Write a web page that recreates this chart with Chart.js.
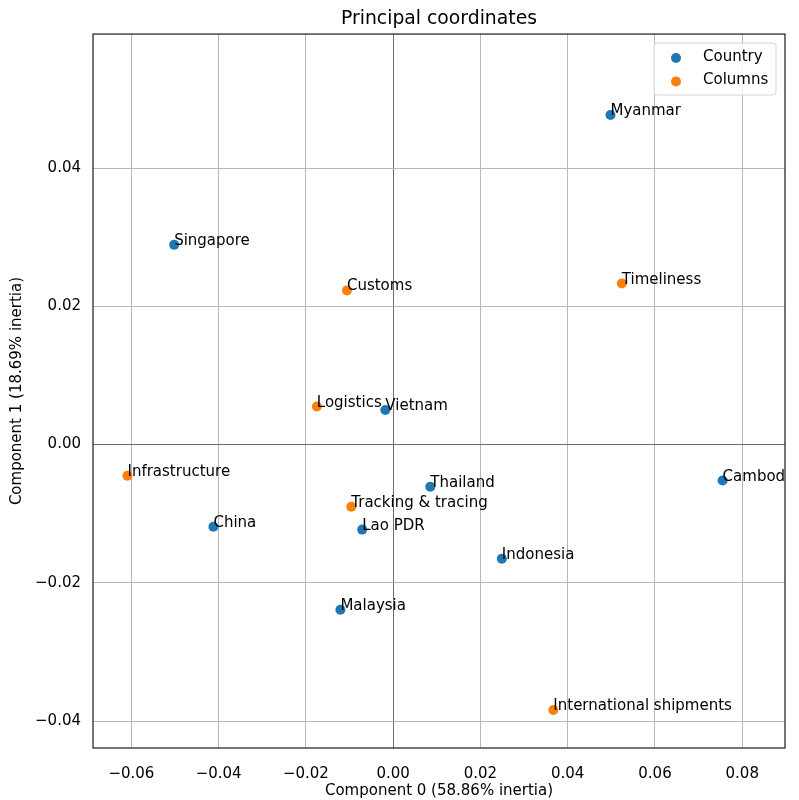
<!DOCTYPE html>
<html>
<head>
<meta charset="utf-8">
<script src="https://cdn.jsdelivr.net/npm/chart.js@4.4.1/dist/chart.umd.min.js"></script>
<style>
  html, body { margin: 0; padding: 0; background: #fff; }
  #wrap { width: 799px; height: 800px; }
</style>
</head>
<body>
<div id="wrap"><canvas id="c" width="799" height="800"></canvas></div>
<script>
// ---- data ----
const countryNames = ['Myanmar', 'Singapore', 'Vietnam', 'Thailand', 'Cambodia', 'China', 'Lao PDR', 'Indonesia', 'Malaysia'];
const countryX = [0.0498, -0.0502, -0.0018, 0.0085, 0.0755, -0.0412, -0.0071, 0.0249, -0.0121];
const countryY = [0.0477, 0.0289, 0.0050, -0.0061, -0.0052, -0.0119, -0.0123, -0.0165, -0.0239];

const columnNames = ['Customs', 'Timeliness', 'Logistics', 'Infrastructure', 'Tracking & tracing', 'International shipments'];
const columnX = [-0.0106, 0.0524, -0.0175, -0.0609, -0.0096, 0.0367];
const columnY = [0.0223, 0.0233, 0.0055, -0.0045, -0.0090, -0.0384];

const xTicks = [-0.06, -0.04, -0.02, 0.00, 0.02, 0.04, 0.06, 0.08];
const yTicks = [-0.04, -0.02, 0.00, 0.02, 0.04];
const xRange = [-0.0688, 0.0898];
const yRange = [-0.0439, 0.0594];

const seriesLabels = ['Country', 'Columns'];
const seriesColors = ['#1f77b4', '#ff7f0e'];

const FONT = "'DejaVu Sans', sans-serif";

function toPoints(xs, ys) { return xs.map((x, i) => ({ x: x, y: ys[i] })); }
function fmt(v) { const s = Number(v).toFixed(2); return s.replace('-', '\u2212'); }

const pointLabels = {
  id: 'pointLabels',
  afterDatasetsDraw(chart) {
    const ctx = chart.ctx, a = chart.chartArea;
    ctx.save();
    ctx.beginPath();
    ctx.rect(a.left, a.top, a.right - a.left, a.bottom - a.top);
    ctx.clip();
    ctx.font = '15px ' + FONT;
    ctx.fillStyle = '#000';
    ctx.textAlign = 'left';
    ctx.textBaseline = 'alphabetic';
    chart.data.datasets.forEach((ds, di) => {
      const meta = chart.getDatasetMeta(di);
      meta.data.forEach((el, i) => {
        ctx.fillText(ds.names[i], el.x, el.y);
      });
    });
    ctx.restore();
  },
  afterDraw(chart) {
    const ctx = chart.ctx, a = chart.chartArea;
    ctx.save();
    // frame
    ctx.strokeStyle = '#1a1a1a';
    ctx.lineWidth = 1.2;
    ctx.strokeRect(a.left, a.top, a.right - a.left, a.bottom - a.top);
    // legend
    const bx = 654, by = 43, bw = 122, bh = 52, r = 3;
    ctx.beginPath();
    ctx.moveTo(bx + r, by);
    ctx.lineTo(bx + bw - r, by);
    ctx.quadraticCurveTo(bx + bw, by, bx + bw, by + r);
    ctx.lineTo(bx + bw, by + bh - r);
    ctx.quadraticCurveTo(bx + bw, by + bh, bx + bw - r, by + bh);
    ctx.lineTo(bx + r, by + bh);
    ctx.quadraticCurveTo(bx, by + bh, bx, by + bh - r);
    ctx.lineTo(bx, by + r);
    ctx.quadraticCurveTo(bx, by, bx + r, by);
    ctx.closePath();
    ctx.fillStyle = 'rgba(255,255,255,0.8)';
    ctx.fill();
    ctx.strokeStyle = '#d6d6d6';
    ctx.lineWidth = 1;
    ctx.stroke();
    ctx.font = '15px ' + FONT;
    ctx.textAlign = 'left';
    ctx.textBaseline = 'middle';
    chart.data.datasets.forEach((ds, di) => {
      const cy = by + 14 + di * 23.5;
      ctx.beginPath();
      ctx.arc(bx + 22, cy + 1, 5, 0, Math.PI * 2);
      ctx.fillStyle = ds.backgroundColor;
      ctx.fill();
      ctx.fillStyle = '#000';
      ctx.fillText(ds.label, bx + 49, cy);
    });
    ctx.restore();
  }
};

const gridColor = (c) => (c.tick && Math.abs(c.tick.value) < 1e-12) ? '#6e6e6e' : '#b8b8b8';

new Chart(document.getElementById('c'), {
  type: 'scatter',
  data: {
    datasets: [
      { label: seriesLabels[0], names: countryNames, data: toPoints(countryX, countryY),
        backgroundColor: seriesColors[0], borderWidth: 0, pointRadius: 5, pointHoverRadius: 5 },
      { label: seriesLabels[1], names: columnNames, data: toPoints(columnX, columnY),
        backgroundColor: seriesColors[1], borderWidth: 0, pointRadius: 5, pointHoverRadius: 5 }
    ]
  },
  options: {
    responsive: false,
    animation: false,
    devicePixelRatio: 1,
    layout: { padding: { left: 0, right: 14, top: 0, bottom: 0 } },
    plugins: {
      legend: { display: false },
      tooltip: { enabled: false },
      title: {
        display: true, fullSize: false, text: 'Principal coordinates', color: '#000',
        font: { family: FONT, size: 18.8, weight: 'normal' },
        padding: { top: 7.5, bottom: 4 }
      }
    },
    scales: {
      x: {
        type: 'linear', min: xRange[0], max: xRange[1],
        afterFit(s) { s.height = 52; },
        afterBuildTicks(s) { s.ticks = xTicks.map(v => ({ value: v })); },
        border: { display: false },
        grid: { color: gridColor, lineWidth: 1, drawTicks: false },
        ticks: { color: '#000', padding: 17, font: { family: FONT, size: 15 }, callback: (v) => fmt(v), maxRotation: 0, autoSkip: false },
        title: { display: true, text: 'Component 0 (58.86% inertia)', color: '#000',
          font: { family: FONT, size: 15 }, padding: { top: 0, bottom: 0 } }
      },
      y: {
        type: 'linear', min: yRange[0], max: yRange[1],
        afterFit(s) { s.width = 93; },
        afterBuildTicks(s) { s.ticks = yTicks.map(v => ({ value: v })); },
        border: { display: false },
        grid: { color: gridColor, lineWidth: 1, drawTicks: false },
        ticks: { color: '#000', padding: 12, font: { family: FONT, size: 15 }, callback: (v) => fmt(v), autoSkip: false },
        title: { display: true, text: 'Component 1 (18.69% inertia)', color: '#000',
          font: { family: FONT, size: 15 }, padding: { top: 8, bottom: 0 } }
      }
    }
  },
  plugins: [pointLabels]
});
</script>
</body>
</html>
